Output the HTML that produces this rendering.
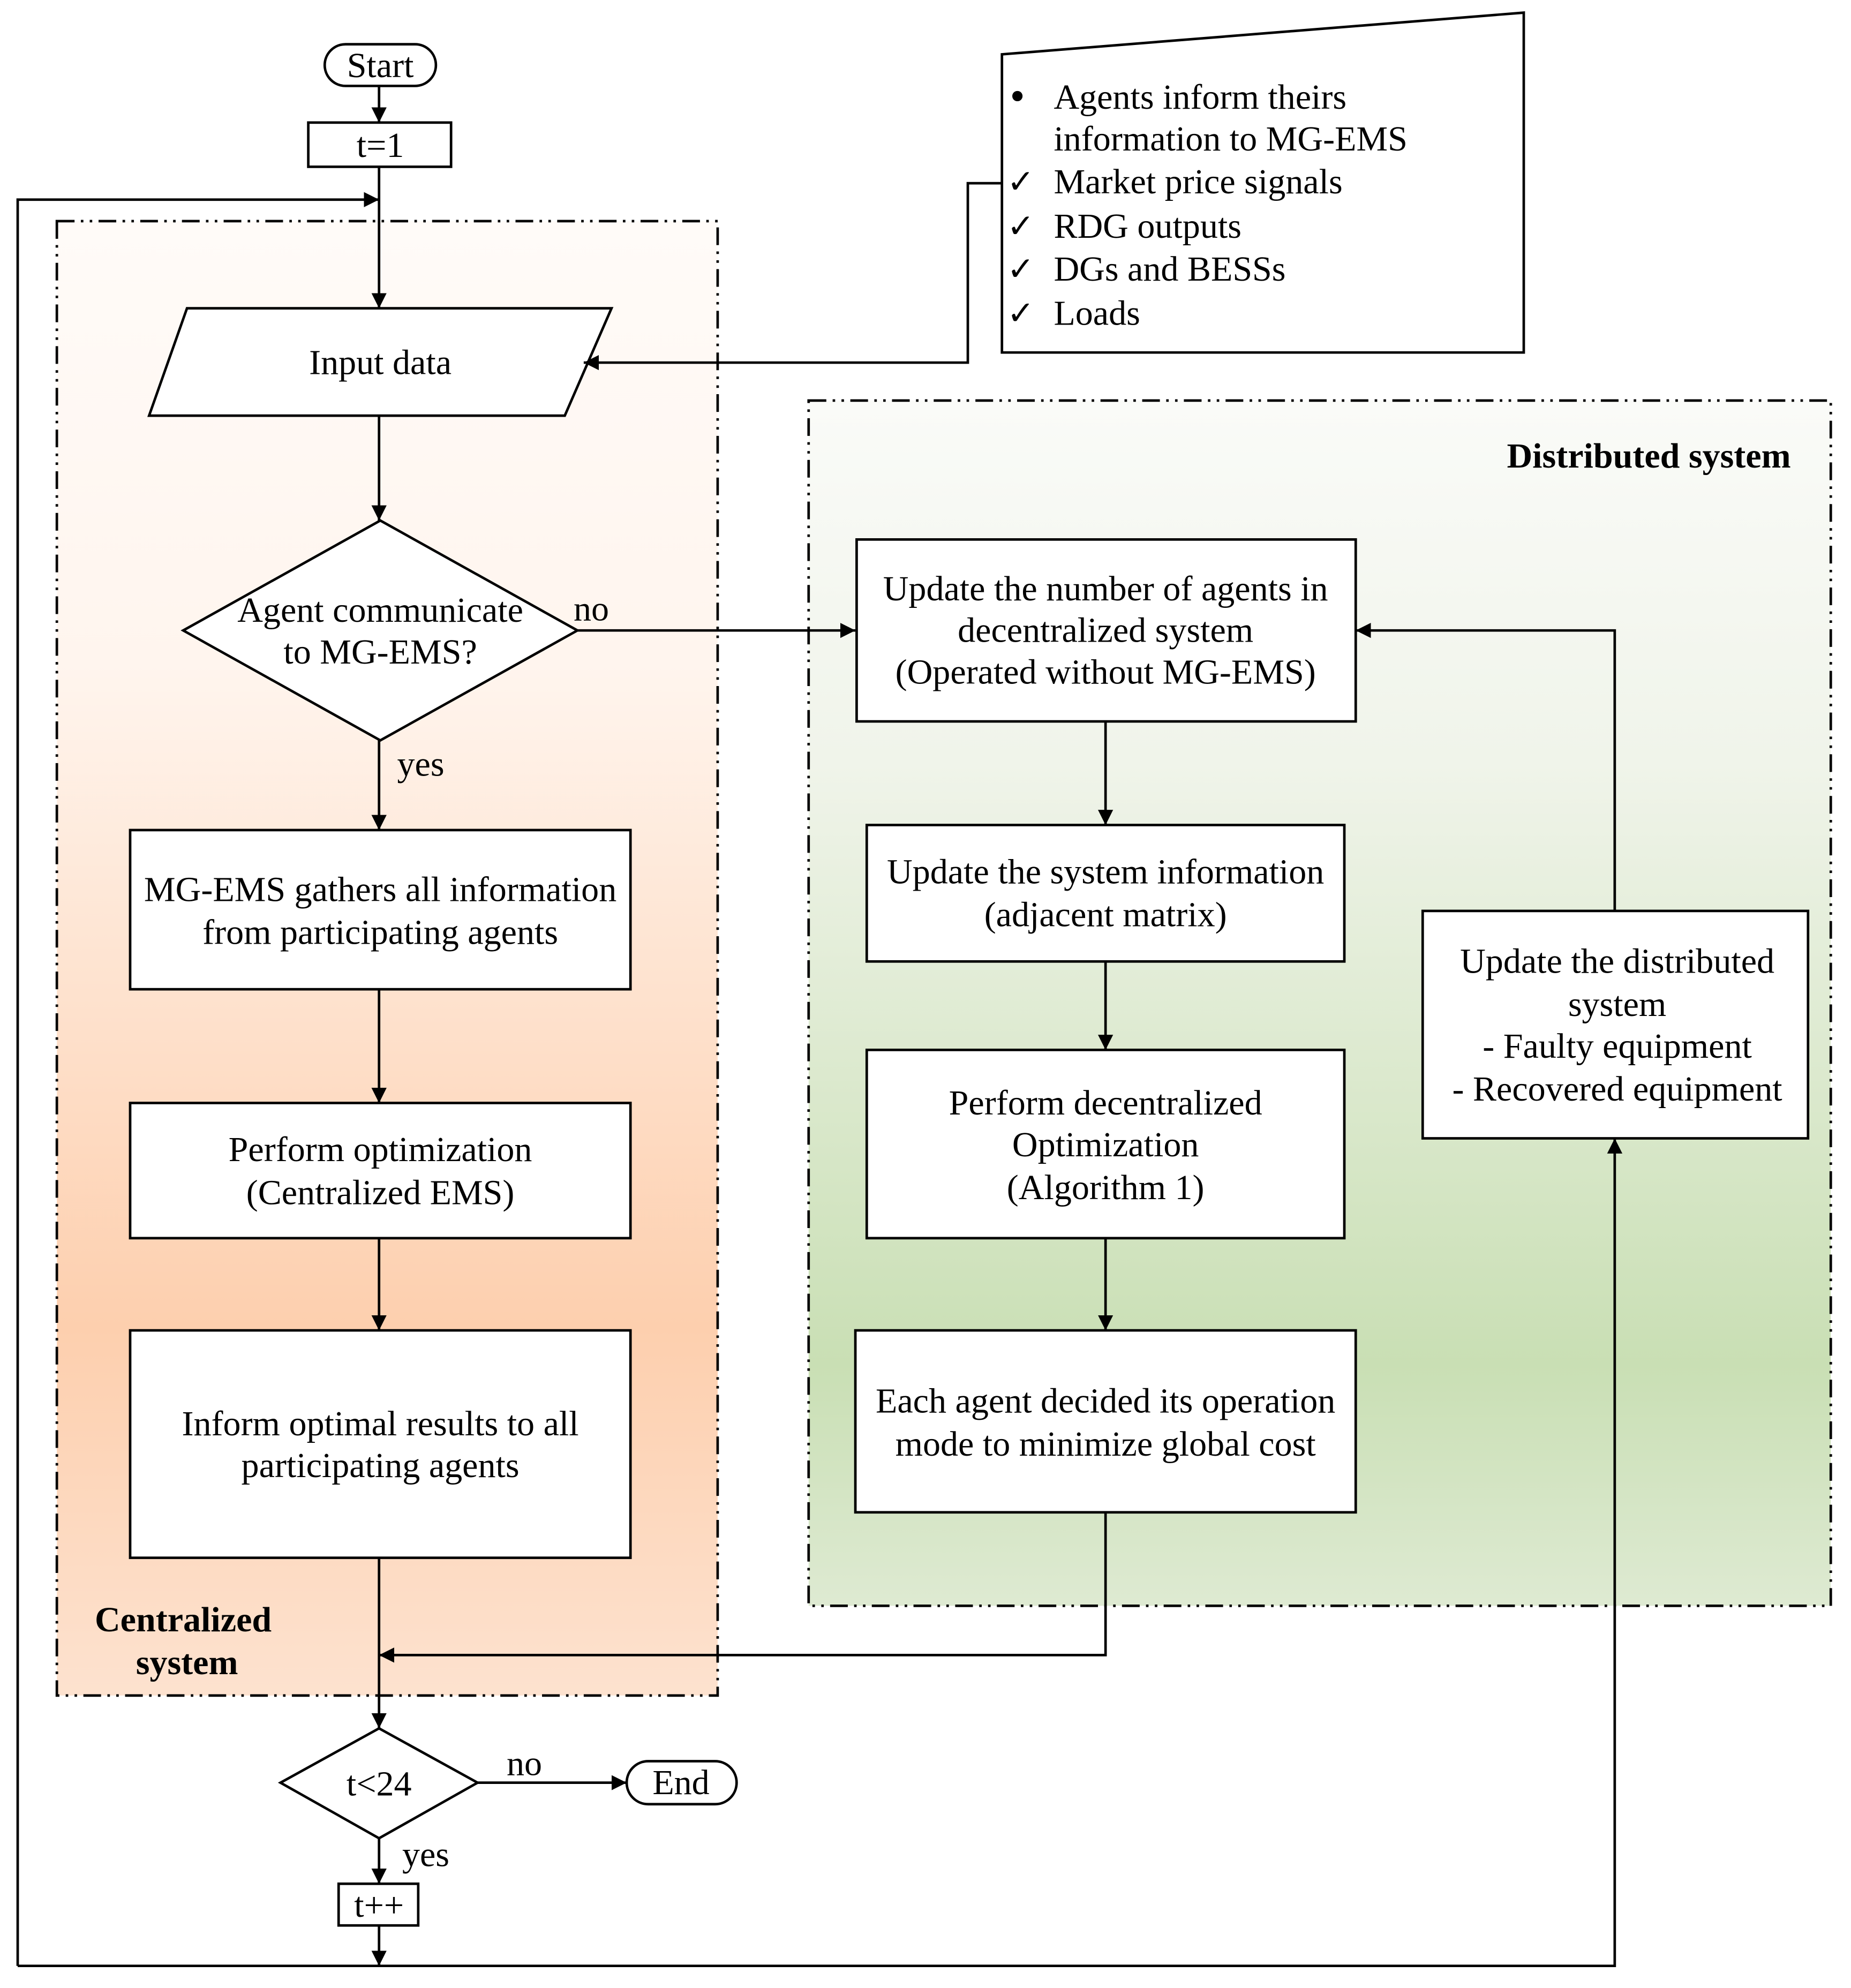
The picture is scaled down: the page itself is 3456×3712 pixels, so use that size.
<!DOCTYPE html>
<html><head><meta charset="utf-8"><style>html,body{margin:0;padding:0;background:#fff}svg{display:block}</style></head><body>
<svg xmlns="http://www.w3.org/2000/svg" width="3456" height="3712" viewBox="0 0 1465 1573.5" font-family="'Liberation Serif', serif" font-size="28">
<defs>
<linearGradient id="gc" x1="0" y1="0" x2="0" y2="1">
<stop offset="0" stop-color="#fffbf8"/><stop offset="0.3" stop-color="#fff5ee"/><stop offset="0.75" stop-color="#fdcfae"/><stop offset="1" stop-color="#fde2cf"/></linearGradient>
<linearGradient id="gd" x1="0" y1="0" x2="0" y2="1">
<stop offset="0" stop-color="#fafbf8"/><stop offset="0.3" stop-color="#f0f4ea"/><stop offset="0.8" stop-color="#c9dfb4"/><stop offset="1" stop-color="#deead2"/></linearGradient>
<marker id="a" viewBox="0 0 10 10" refX="10" refY="5" markerWidth="12" markerHeight="12" markerUnits="userSpaceOnUse" orient="auto"><path d="M0,0 L10,5 L0,10 z" fill="#000"/></marker>
</defs>
<g stroke="#000" stroke-width="2" fill="none">
<rect x="45" y="175" width="523" height="1167" fill="url(#gc)" stroke-dasharray="14,5,2,5,2,5"/>
<rect x="640" y="317" width="809" height="954" fill="url(#gd)" stroke-dasharray="14,5,2,5,2,5"/>
<rect x="257" y="35" width="88" height="33" rx="16.5" fill="#fff"/>
<rect x="244" y="97" width="113" height="35" fill="#fff"/>
<polygon points="148,244 484,244 447,329 118,329" fill="#fff"/>
<polygon points="301,412 457,499 301,586 145,499" fill="#fff"/>
<rect x="103" y="657" width="396" height="126" fill="#fff"/>
<rect x="103" y="873" width="396" height="107" fill="#fff"/>
<rect x="103" y="1053" width="396" height="180" fill="#fff"/>
<polygon points="300,1368 378,1411 300,1455 222,1411" fill="#fff"/>
<rect x="496" y="1394" width="87" height="34" rx="17" fill="#fff"/>
<rect x="268" y="1491" width="63" height="33" fill="#fff"/>
<polygon points="793,43 1206,10 1206,279 793,279" fill="#fff"/>
<rect x="678" y="427" width="395" height="144" fill="#fff"/>
<rect x="686" y="653" width="378" height="108" fill="#fff"/>
<rect x="686" y="831" width="378" height="149" fill="#fff"/>
<rect x="677" y="1053" width="396" height="144" fill="#fff"/>
<rect x="1126" y="721" width="305" height="180" fill="#fff"/>
<line x1="300" y1="68" x2="300" y2="97" marker-end="url(#a)"/>
<line x1="300" y1="132" x2="300" y2="244" marker-end="url(#a)"/>
<polyline points="14,1556 14,158 300,158" marker-end="url(#a)"/>
<line x1="300" y1="329" x2="300" y2="412" marker-end="url(#a)"/>
<line x1="457" y1="499" x2="677" y2="499" marker-end="url(#a)"/>
<line x1="300" y1="586" x2="300" y2="657" marker-end="url(#a)"/>
<line x1="300" y1="783" x2="300" y2="873" marker-end="url(#a)"/>
<line x1="300" y1="980" x2="300" y2="1053" marker-end="url(#a)"/>
<line x1="300" y1="1233" x2="300" y2="1368" marker-end="url(#a)"/>
<line x1="378" y1="1411" x2="496" y2="1411" marker-end="url(#a)"/>
<line x1="300" y1="1455" x2="300" y2="1491" marker-end="url(#a)"/>
<line x1="300" y1="1524" x2="300" y2="1556" marker-end="url(#a)"/>
<polyline points="14,1556 1278,1556 1278,901" marker-end="url(#a)"/>
<polyline points="793,145 766,145 766,287 462,287" marker-end="url(#a)"/>
<line x1="875" y1="571" x2="875" y2="653" marker-end="url(#a)"/>
<line x1="875" y1="761" x2="875" y2="831" marker-end="url(#a)"/>
<line x1="875" y1="980" x2="875" y2="1053" marker-end="url(#a)"/>
<polyline points="875,1197 875,1310 300,1310" marker-end="url(#a)"/>
<polyline points="1278,721 1278,499 1073,499" marker-end="url(#a)"/>
</g>
<g fill="#000" text-anchor="middle" dominant-baseline="central">
<text x="301" y="52">Start</text>
<text x="301" y="115">t=1</text>
<text x="301" y="287">Input data</text>
<text x="301" y="483">Agent communicate</text>
<text x="301" y="516">to MG-EMS?</text>
<text x="468" y="482">no</text>
<text x="333" y="605">yes</text>
<text x="301" y="704">MG-EMS gathers all information</text>
<text x="301" y="738">from participating agents</text>
<text x="301" y="910">Perform optimization</text>
<text x="301" y="944">(Centralized EMS)</text>
<text x="301" y="1127">Inform optimal results to all</text>
<text x="301" y="1160">participating agents</text>
<text x="145" y="1282" font-weight="bold">Centralized</text>
<text x="148" y="1316" font-weight="bold">system</text>
<text x="300" y="1412">t&lt;24</text>
<text x="415" y="1396">no</text>
<text x="539" y="1411">End</text>
<text x="337" y="1468">yes</text>
<text x="300" y="1508">t++</text>
<text x="1305" y="361" font-weight="bold">Distributed system</text>
<text x="875" y="466">Update the number of agents in</text>
<text x="875" y="499">decentralized system</text>
<text x="875" y="532">(Operated without MG-EMS)</text>
<text x="875" y="690">Update the system information</text>
<text x="875" y="724">(adjacent matrix)</text>
<text x="875" y="873">Perform decentralized</text>
<text x="875" y="906">Optimization</text>
<text x="875" y="940">(Algorithm 1)</text>
<text x="875" y="1109">Each agent decided its operation</text>
<text x="875" y="1143">mode to minimize global cost</text>
<text x="1280" y="761">Update the distributed</text>
<text x="1280" y="795">system</text>
<text x="1280" y="828">- Faulty equipment</text>
<text x="1280" y="862">- Recovered equipment</text>
</g>
<g fill="#000" dominant-baseline="central">
<text x="797" y="77" font-family="'DejaVu Sans', sans-serif" font-size="28">•</text>
<text x="834" y="77">Agents inform theirs</text>
<text x="834" y="110">information to MG-EMS</text>
<text x="797" y="144" font-family="'DejaVu Sans', sans-serif" font-size="26">✓</text>
<text x="834" y="144">Market price signals</text>
<text x="797" y="179" font-family="'DejaVu Sans', sans-serif" font-size="26">✓</text>
<text x="834" y="179">RDG outputs</text>
<text x="797" y="213" font-family="'DejaVu Sans', sans-serif" font-size="26">✓</text>
<text x="834" y="213">DGs and BESSs</text>
<text x="797" y="248" font-family="'DejaVu Sans', sans-serif" font-size="26">✓</text>
<text x="834" y="248">Loads</text>
</g>
</svg>
</body></html>
